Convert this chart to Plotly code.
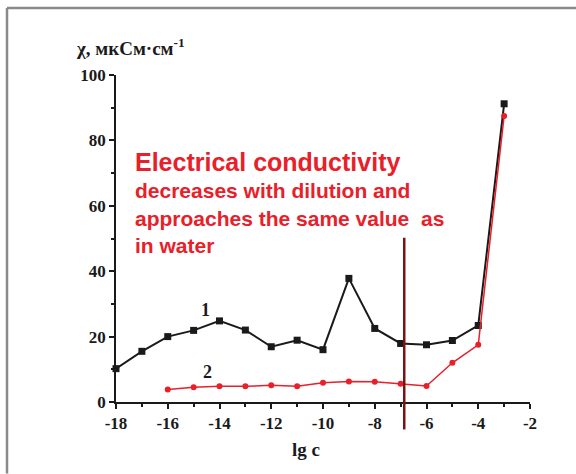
import plotly.graph_objects as go

# Data
lg_c_1 = [-18, -17, -16, -15, -14, -13, -12, -11, -10, -9, -8, -7, -6, -5, -4, -3]
chi_1 = [10.2, 15.5, 20.0, 21.9, 24.8, 22.0, 16.9, 18.9, 16.0, 37.8, 22.5, 17.9, 17.5, 18.8, 23.4, 91.2]
lg_c_2 = [-16, -15, -14, -13, -12, -11, -10, -9, -8, -7, -6, -5, -4, -3]
chi_2 = [3.8, 4.5, 4.8, 4.8, 5.1, 4.8, 5.9, 6.3, 6.2, 5.6, 4.9, 12.0, 17.5, 87.5]
marker_lg_c = -6.86
x_ticks = [-18, -16, -14, -12, -10, -8, -6, -4, -2]
x_tick_labels = ["-18", "-16", "-14", "-12", "-10", "-8", "-6", "-4", "-2"]
y_ticks = [0, 20, 40, 60, 80, 100]
y_tick_labels = ["0", "20", "40", "60", "80", "100"]

L, R, T, B = 116, 46, 75, 71.5
W, H = 576, 474
pw, ph = W - L - R, H - T - B

def px(x):
    return (x - L) / pw

def py(y):
    return (H - B - y) / ph

serif = "Liberation Serif"
sans = "Liberation Sans"
red = "#e8202a"
ink = "#1a1a1a"

fig = go.Figure()
fig.add_trace(go.Scatter(x=lg_c_1, y=chi_1, mode="lines+markers",
                         line=dict(color=ink, width=2),
                         marker=dict(symbol="square", size=7, color=ink),
                         cliponaxis=False, showlegend=False))
fig.add_trace(go.Scatter(x=lg_c_2, y=chi_2, mode="lines+markers",
                         line=dict(color=red, width=1.5),
                         marker=dict(symbol="circle", size=6, color=red),
                         cliponaxis=False, showlegend=False))

axis_common = dict(showline=True, linecolor=ink, linewidth=1.6, mirror=False,
                   ticks="outside", ticklen=5, tickwidth=1.5, tickcolor=ink,
                   showgrid=False, zeroline=False, tickmode="array",
                   tickfont=dict(family=serif, size=17, color=ink, weight="bold"))

fig.update_xaxes(range=[-18, -2], tickvals=x_ticks, ticktext=x_tick_labels,
                 minor=dict(tick0=-18, dtick=1, ticks="outside", ticklen=3, tickwidth=1.5, tickcolor=ink),
                 **axis_common)
fig.update_yaxes(range=[0, 100], tickvals=y_ticks, ticktext=y_tick_labels,
                 minor=dict(tick0=0, dtick=10, ticks="outside", ticklen=3, tickwidth=1.5, tickcolor=ink),
                 **axis_common)

shapes = [
    # gray frame (top and left)
    dict(type="line", xref="paper", yref="paper", x0=px(7), x1=px(W), y0=py(8), y1=py(8),
         line=dict(color="#8a8a8a", width=2.5)),
    dict(type="line", xref="paper", yref="paper", x0=px(7), x1=px(7), y0=py(8), y1=py(H),
         line=dict(color="#8a8a8a", width=2.5)),
    # vertical marker line
    dict(type="line", xref="x", yref="paper", x0=marker_lg_c, x1=marker_lg_c,
         y0=py(430), y1=py(238), line=dict(color="#7a1414", width=2.5)),
]

annotations = [
    dict(text="χ, мкСм·см<sup>-1</sup>", xref="paper", yref="paper", x=px(74), y=py(47),
         xanchor="left", yanchor="middle", showarrow=False,
         font=dict(family=serif, size=19, color=ink, weight="bold")),
    dict(text="lg c", xref="paper", yref="paper", x=px(306), y=py(450),
         xanchor="center", yanchor="middle", showarrow=False,
         font=dict(family=serif, size=19, color=ink, weight="bold")),
    dict(text="1", xref="paper", yref="paper", x=px(205), y=py(310),
         xanchor="center", yanchor="middle", showarrow=False,
         font=dict(family=serif, size=18, color=ink, weight="bold")),
    dict(text="2", xref="paper", yref="paper", x=px(207), y=py(372),
         xanchor="center", yanchor="middle", showarrow=False,
         font=dict(family=serif, size=18, color=ink, weight="bold")),
    dict(text="Electrical conductivity", xref="paper", yref="paper", x=px(133), y=py(162),
         xanchor="left", yanchor="middle", showarrow=False,
         font=dict(family=sans, size=25, color=red, weight="bold")),
    dict(text="decreases with dilution and", xref="paper", yref="paper", x=px(133), y=py(191),
         xanchor="left", yanchor="middle", showarrow=False,
         font=dict(family=sans, size=21, color=red, weight="bold")),
    dict(text="approaches the same value&nbsp;&nbsp;as", xref="paper", yref="paper", x=px(133), y=py(219),
         xanchor="left", yanchor="middle", showarrow=False,
         font=dict(family=sans, size=21, color=red, weight="bold")),
    dict(text="in water", xref="paper", yref="paper", x=px(133), y=py(246),
         xanchor="left", yanchor="middle", showarrow=False,
         font=dict(family=sans, size=21, color=red, weight="bold")),
]

fig.update_layout(width=W, height=H, margin=dict(l=L, r=R, t=T, b=B),
                  paper_bgcolor="white", plot_bgcolor="white",
                  shapes=shapes, annotations=annotations)

fig.write_html("out.html")
